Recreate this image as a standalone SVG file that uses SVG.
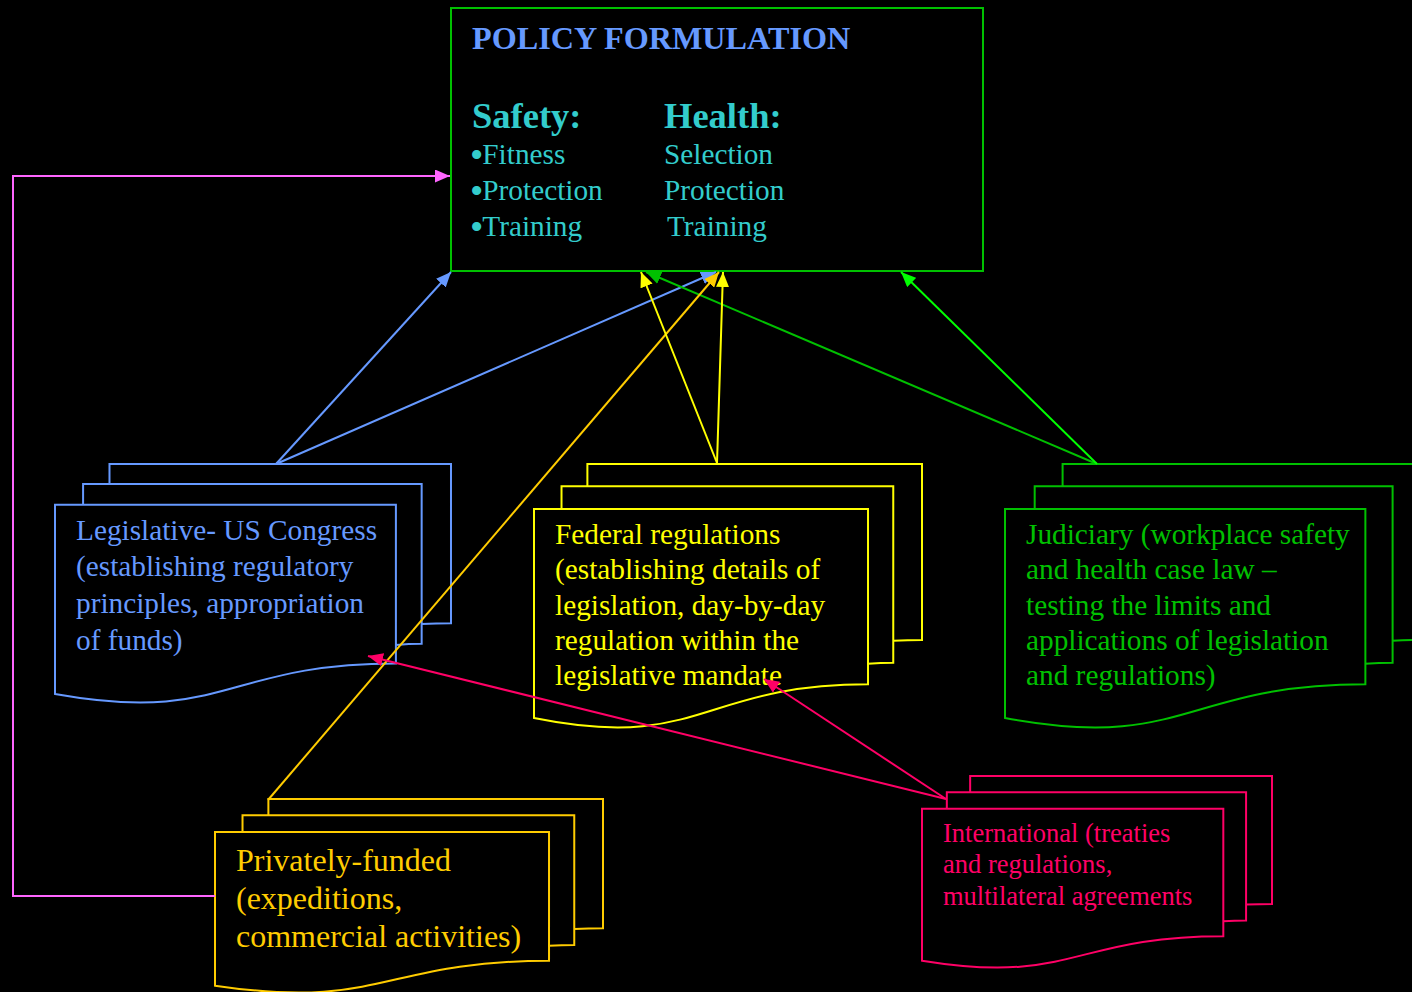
<svg xmlns="http://www.w3.org/2000/svg" xmlns:xlink="http://www.w3.org/1999/xlink" width="1412" height="992" viewBox="0 0 1412 992">
  <defs>
    <style>
      text { font-family: "Liberation Serif", "Times New Roman", serif; }
      .doc { fill: #000; stroke-width: 2; stroke-linejoin: miter; }
      .blue { stroke: #6699ff; }
      .yellow { stroke: #ffff00; }
      .green { stroke: #00c000; }
      .amber { stroke: #ffcc00; }
      .red { stroke: #ff0066; }
      .link { fill: none; stroke-width: 2; }
      .t29 { font-size: 29.3px; }
      .bul { font-size: 38px; }
    </style>
    <!-- stacked-document outline in 21600-unit space -->
    <path id="multidoc" vector-effect="non-scaling-stroke" d="M0,20782 C9298,23542 9298,18022 18595,18022 L18595,3675 L0,3675 Z M1532,3675 L1532,1815 L20000,1815 L20000,16252 C19298,16252 18595,16352 18595,16352 L18595,3675 Z M2972,1815 L2972,0 L21600,0 L21600,14392 C20800,14392 20000,14467 20000,14467 L20000,1815 Z"/>
    <marker id="ah-blue" markerUnits="userSpaceOnUse" viewBox="0 0 15 13" refX="15" refY="6.5" markerWidth="15" markerHeight="13" orient="auto"><path d="M0,0 L15,6.5 L0,13 Z" fill="#6699ff"/></marker>
    <marker id="ah-yellow" markerUnits="userSpaceOnUse" viewBox="0 0 15 13" refX="15" refY="6.5" markerWidth="15" markerHeight="13" orient="auto"><path d="M0,0 L15,6.5 L0,13 Z" fill="#ffff00"/></marker>
    <marker id="ah-amber" markerUnits="userSpaceOnUse" viewBox="0 0 15 13" refX="15" refY="6.5" markerWidth="15" markerHeight="13" orient="auto"><path d="M0,0 L15,6.5 L0,13 Z" fill="#ffcc00"/></marker>
    <marker id="ah-green" markerUnits="userSpaceOnUse" viewBox="0 0 15 13" refX="15" refY="6.5" markerWidth="15" markerHeight="13" orient="auto"><path d="M0,0 L15,6.5 L0,13 Z" fill="#00c000"/></marker>
    <marker id="ah-lime" markerUnits="userSpaceOnUse" viewBox="0 0 15 13" refX="15" refY="6.5" markerWidth="15" markerHeight="13" orient="auto"><path d="M0,0 L15,6.5 L0,13 Z" fill="#00ff00"/></marker>
    <marker id="ah-red" markerUnits="userSpaceOnUse" viewBox="0 0 15 13" refX="15" refY="6.5" markerWidth="15" markerHeight="13" orient="auto"><path d="M0,0 L15,6.5 L0,13 Z" fill="#ff0066"/></marker>
    <marker id="ah-pink" markerUnits="userSpaceOnUse" viewBox="0 0 15 13" refX="15" refY="6.5" markerWidth="15" markerHeight="13" orient="auto"><path d="M0,0 L15,6.5 L0,13 Z" fill="#ff66ff"/></marker>
  </defs>

  <rect x="0" y="0" width="1412" height="992" fill="#000"/>

  <!-- central policy box -->
  <g id="policy">
    <rect x="451" y="8" width="532" height="263" fill="#000" stroke="#00c000" stroke-width="2"/>
    <text x="472" y="49" font-size="32.2" font-weight="bold" fill="#6699ff">POLICY FORMULATION</text>
    <g fill="#33cccc">
      <text x="472" y="128" font-size="36.5" font-weight="bold">Safety:</text>
      <text x="664" y="128" font-size="36.5" font-weight="bold">Health:</text>
      <text x="470" y="164" font-size="29.3"><tspan class="bul" dy="4">•</tspan><tspan dx="-1" dy="-4">Fitness</tspan></text>
      <text x="470" y="200" font-size="29.3"><tspan class="bul" dy="4">•</tspan><tspan dx="-1" dy="-4">Protection</tspan></text>
      <text x="470" y="236" font-size="29.3"><tspan class="bul" dy="4">•</tspan><tspan dx="-1" dy="-4">Training</tspan></text>
      <text x="664" y="164" font-size="29.3">Selection</text>
      <text x="664" y="200" font-size="29.3">Protection</text>
      <text x="667" y="236" font-size="29.3">Training</text>
    </g>
  </g>

  <g id="legislative">
    <use xlink:href="#multidoc" class="doc blue" transform="translate(55,464) scale(0.018333,0.011065)"/>
    <g class="t29" fill="#6699ff">
      <text x="76" y="540">Legislative- US Congress</text>
      <text x="76" y="576">(establishing regulatory</text>
      <text x="76" y="613">principles, appropriation</text>
      <text x="76" y="650">of funds)</text>
    </g>
  </g>

  <g id="federal">
    <use xlink:href="#multidoc" class="doc yellow" transform="translate(534,464) scale(0.017963,0.012222)"/>
    <g class="t29" fill="#ffff00">
      <text x="555" y="544">Federal regulations</text>
      <text x="555" y="579">(establishing details of</text>
      <text x="555" y="615">legislation, day-by-day</text>
      <text x="555" y="650">regulation within the</text>
      <text x="555" y="685">legislative mandate</text>
    </g>
  </g>

  <g id="judiciary">
    <use xlink:href="#multidoc" class="doc green" transform="translate(1005,464) scale(0.01938,0.012222)"/>
    <g class="t29" fill="#00c000">
      <text x="1026" y="544">Judiciary (workplace safety</text>
      <text x="1026" y="579">and health case law –</text>
      <text x="1026" y="615">testing the limits and</text>
      <text x="1026" y="650">applications of legislation</text>
      <text x="1026" y="685">and regulations)</text>
    </g>
  </g>

  <g id="private">
    <use xlink:href="#multidoc" class="doc amber" transform="translate(215,799) scale(0.017963,0.008981)"/>
    <g font-size="32" fill="#ffcc00">
      <text x="236" y="871">Privately-funded</text>
      <text x="236" y="909">(expeditions,</text>
      <text x="236" y="947">commercial activities)</text>
    </g>
  </g>

  <g id="international">
    <use xlink:href="#multidoc" class="doc red" transform="translate(922,776) scale(0.016204,0.008889)"/>
    <g font-size="26.5" fill="#ff0066">
      <text x="943" y="842">International (treaties</text>
      <text x="943" y="873">and regulations,</text>
      <text x="943" y="905">multilateral agreements</text>
    </g>
  </g>

  <!-- connectors -->
  <g id="connectors">
    <line class="link" x1="276" y1="464" x2="451" y2="272" stroke="#6699ff" marker-end="url(#ah-blue)"/>
    <line class="link" x1="276" y1="464" x2="716" y2="272" stroke="#6699ff" marker-end="url(#ah-blue)"/>
    <line class="link" x1="1097" y1="464" x2="646" y2="272" stroke="#00c000" marker-end="url(#ah-green)"/>
    <line class="link" x1="1097" y1="464" x2="901" y2="272" stroke="#00ff00" marker-end="url(#ah-lime)"/>
    <line class="link" x1="268" y1="800" x2="719" y2="272" stroke="#ffcc00" marker-end="url(#ah-amber)"/>
    <line class="link" x1="717" y1="463" x2="641" y2="272" stroke="#ffff00" marker-end="url(#ah-yellow)"/>
    <line class="link" x1="717" y1="463" x2="723" y2="272" stroke="#ffff00" marker-end="url(#ah-yellow)"/>
    <line class="link" x1="946" y1="799" x2="368" y2="656" stroke="#ff0066" marker-end="url(#ah-red)"/>
    <line class="link" x1="946" y1="799" x2="764" y2="679" stroke="#ff0066" marker-end="url(#ah-red)"/>
    <polyline class="link" points="215,896 13,896 13,176 450,176" stroke="#ff66ff" marker-end="url(#ah-pink)"/>
  </g>
</svg>
